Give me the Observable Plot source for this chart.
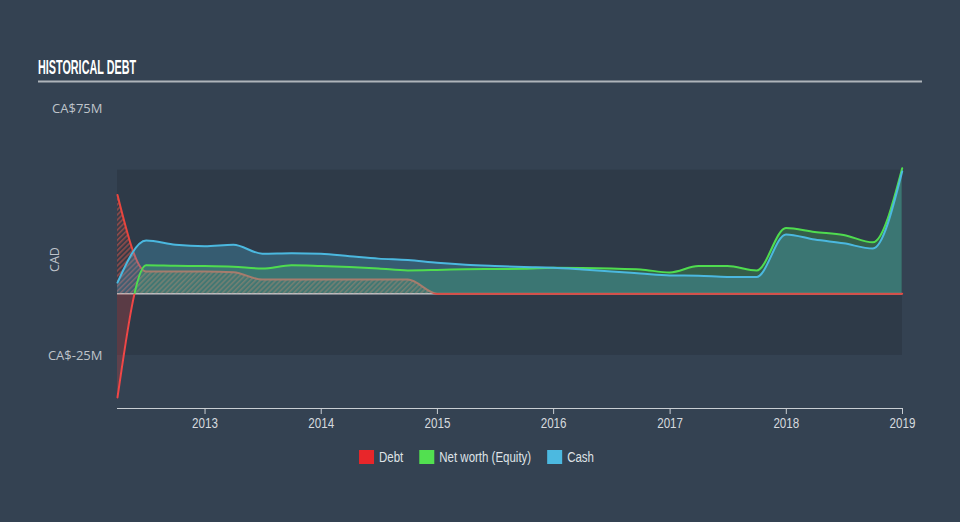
<!DOCTYPE html>
<html><head><meta charset="utf-8">
<script src="https://cdn.jsdelivr.net/npm/d3@7"></script>
<script src="https://cdn.jsdelivr.net/npm/@observablehq/plot@0.6"></script>
<style>
html,body{margin:0;padding:0;background:#344252;}
#wrap{position:relative;width:960px;height:522px;background:#344252;overflow:hidden;}
#wrap > svg{position:absolute;left:0;top:0;}
</style></head><body><div id="wrap"></div>
<script>
// ---- data ----
const dates = ["2012-04-01","2012-06-30","2012-09-30","2012-12-31","2013-03-31","2013-06-30","2013-09-30","2013-12-31",
  "2014-03-31","2014-06-30","2014-09-30","2014-12-31","2015-03-31","2015-06-30","2015-09-30","2015-12-31",
  "2016-03-31","2016-06-30","2016-09-30","2016-12-31","2017-03-31","2017-06-30","2017-09-30","2017-12-31",
  "2018-03-31","2018-06-30","2018-09-30","2018-12-31"];
const debt   = [40, 9, 9, 9, 8.7, 5.7, 5.7, 5.7, 5.7, 5.7, 5.7, 0, 0, 0, 0, 0, 0, 0, 0, 0, 0, 0, 0, 0, 0, 0, 0, 0];
const equity = [-42, 11.5, 11.3, 11.2, 10.9, 10.2, 11.5, 11.2, 10.8, 10.2, 9.4, 9.6, 9.9, 10.0, 10.1, 10.5,
  10.4, 10.2, 9.8, 8.6, 11.2, 11.2, 9.4, 26.6, 25.0, 23.8, 20.8, 50.8];
const cash   = [4.5, 21.5, 19.8, 19.2, 19.8, 16.2, 16.4, 16.2, 15.2, 14.2, 13.6, 12.5, 11.7, 11.2, 10.8, 10.5,
  9.8, 9.0, 8.2, 7.4, 7.3, 6.8, 6.8, 24.0, 21.9, 20.4, 18.3, 49.5];
const seriesNames  = ["Debt", "Net worth (Equity)", "Cash"];
const seriesColors = ["#e8262a", "#52e050", "#4cb9e0"];
const xTickYears = [2013, 2014, 2015, 2016, 2017, 2018, 2019];
const yTicks = [-25, 75];
const yTickLabels = ["CA$-25M", "CA$75M"];
const yDomain = [-46.5, 75];
const xDomain = ["2012-04-01", "2019-01-01"];
const band = [-25, 50];
const titleText = "HISTORICAL DEBT";
const yLabelText = "CAD";

// ---- build ----
const data = dates.map((d, i) => ({date: new Date(d), debt: debt[i], equity: equity[i], cash: cash[i]}));
const xd = xDomain.map(d => new Date(d));
const curve = "monotone-x";
const sans = "'Liberation Sans', Arial, sans-serif";

const chart = Plot.plot({
  width: 960, height: 522,
  marginLeft: 117, marginRight: 58, marginTop: 108, marginBottom: 114,
  style: {background: "transparent", color: "#c9ced3", fontFamily: sans, fontSize: "14px", overflow: "visible"},
  x: {type: "utc", domain: xd, ticks: xTickYears.map(y => new Date(Date.UTC(y, 0, 1))), tickFormat: d => String(d.getUTCFullYear()),
      tickSize: 6, tickPadding: 4, line: true, label: null},
  y: {domain: yDomain, ticks: yTicks, tickFormat: d => yTickLabels[yTicks.indexOf(d)], tickSize: 0, tickPadding: 15, label: null},
  marks: [
    Plot.rect([band], {x1: () => xd[0], x2: () => xd[1], y1: d => d[0], y2: d => d[1], fill: "#2e3a48"}),
    Plot.ruleY([0], {stroke: "#c5c8cc", strokeWidth: 1.5}),
    Plot.areaY(data, {x: "date", y: "debt", fill: "url(#hatch)", curve}),
    Plot.line(data, {x: "date", y: "debt", stroke: "#e8453e", strokeWidth: 2, curve}),
    Plot.areaY(data, {x: "date", y: "equity", fill: "#52e052", fillOpacity: 0.22, curve}),
    Plot.areaY(data, {x: "date", y: "equity", fill: "#e0403b", fillOpacity: 0.25, curve}),
    Plot.areaY(data, {x: "date", y: "cash", fill: "#4cb8e0", fillOpacity: 0.27, curve}),
    Plot.line(data, {x: "date", y: "equity", stroke: "#4fdc4f", strokeWidth: 2, curve}),
    Plot.line(data, {x: "date", y: "equity", stroke: "#f04646", strokeWidth: 2, curve}),
    Plot.line(data, {x: "date", y: "cash", stroke: "#4bb8df", strokeWidth: 2, curve})
  ]
});
document.getElementById("wrap").appendChild(chart);

const svg = d3.select(chart);
const y0 = chart.scale("y").apply(0);
const defs = svg.insert("defs", ":first-child");
const pat = defs.append("pattern").attr("id", "hatch").attr("patternUnits", "userSpaceOnUse")
  .attr("width", 3.6).attr("height", 3.6).attr("patternTransform", "rotate(45)");
pat.append("rect").attr("width", 3.6).attr("height", 3.6).attr("fill", "rgba(200,80,70,0.08)");
pat.append("line").attr("x1", 0.8).attr("y1", 0).attr("x2", 0.8).attr("y2", 3.6)
  .attr("stroke", "#d8574c").attr("stroke-opacity", 0.6).attr("stroke-width", 1.4);
defs.append("clipPath").attr("id", "clipAbove").append("rect").attr("x", 0).attr("y", 0).attr("width", 960).attr("height", y0);
defs.append("clipPath").attr("id", "clipBelow").append("rect").attr("x", 0).attr("y", y0).attr("width", 960).attr("height", 522 - y0);

svg.selectAll('[fill="#52e052"], [stroke="#4fdc4f"]').attr("clip-path", "url(#clipAbove)");
svg.selectAll('[fill="#e0403b"], [stroke="#f04646"]').attr("clip-path", "url(#clipBelow)");

svg.selectAll('g[aria-label^="y-axis"] text').attr("font-family", "'Open Sans', sans-serif").attr("font-size", 13).attr("fill", "#bfc4ca");
svg.selectAll('g[aria-label^="x-axis"] text').attr("font-family", sans).attr("font-size", 14).attr("fill", "#d6dadf")
  .each(function () { const w = this.getComputedTextLength(); this.setAttribute("textLength", w * 0.83); this.setAttribute("lengthAdjust", "spacingAndGlyphs"); });

// title + rule
svg.append("text").text(titleText).attr("transform", "translate(38,74) scale(0.515,1)").attr("text-anchor", "start")
  .attr("font-family", sans).attr("font-weight", "bold").attr("font-size", 21).attr("fill", "#ffffff");
svg.append("line").attr("x1", 38).attr("x2", 922).attr("y1", 81.5).attr("y2", 81.5).attr("stroke", "#aeb4ba").attr("stroke-width", 2);

// y label
svg.append("text").text(yLabelText).attr("transform", "translate(59,259.5) rotate(-90)").attr("text-anchor", "middle")
  .attr("font-family", "'Open Sans', sans-serif").attr("font-size", 12.5).attr("fill", "#bfc4ca");

// legend
const lg = svg.append("g");
let cx = 0;
seriesNames.forEach((n, i) => {
  const g = lg.append("g").attr("transform", `translate(${cx},0)`);
  g.append("rect").attr("x", 0).attr("y", 0).attr("width", 15).attr("height", 14).attr("fill", seriesColors[i]);
  const t = g.append("text").text(n).attr("x", 20).attr("y", 11.5).attr("text-anchor", "start")
    .attr("font-family", sans).attr("font-size", 14).attr("fill", "#dfe3e7");
  const w = t.node().getComputedTextLength() * 0.82;
  t.attr("textLength", w).attr("lengthAdjust", "spacingAndGlyphs");
  cx += 20 + w + 16;
});
const lw = cx - 16;
lg.attr("transform", `translate(${476.5 - lw / 2},450)`);
</script></body></html>
